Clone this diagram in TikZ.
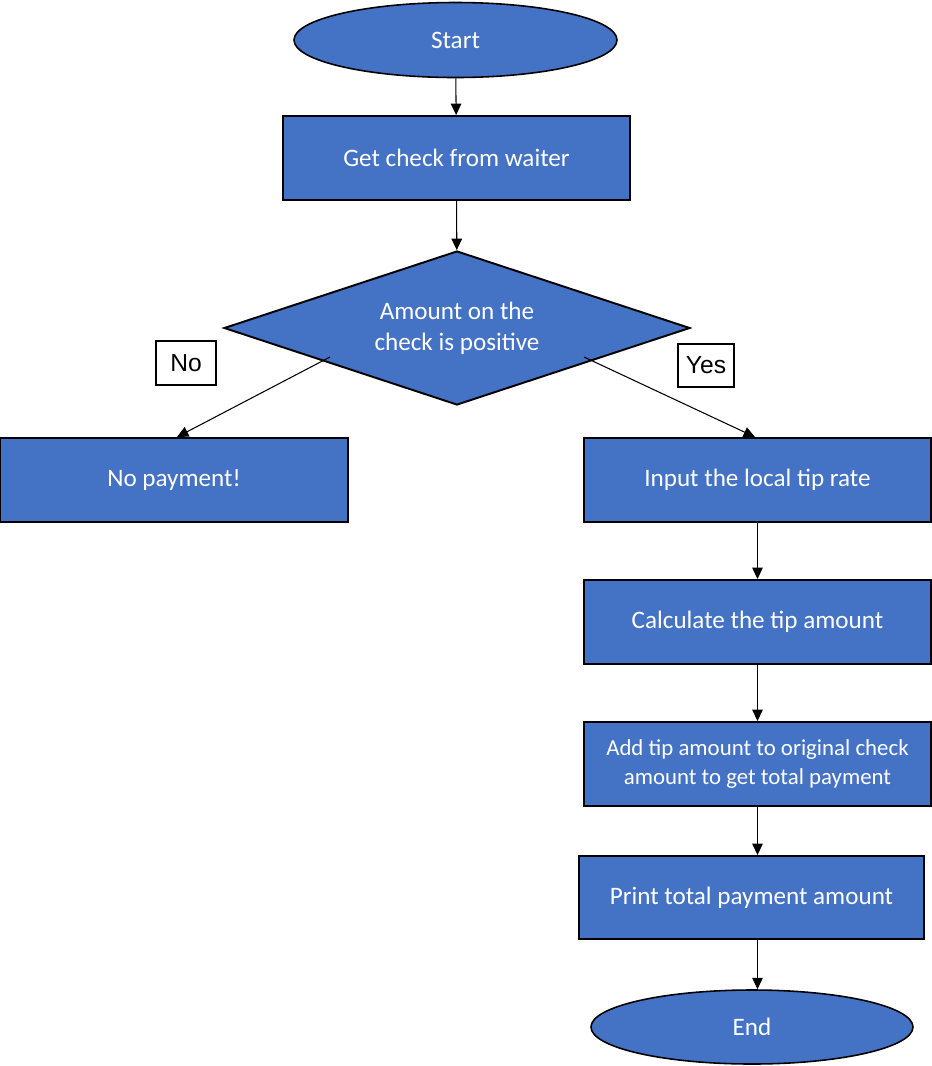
\documentclass[tikz,border=0pt]{standalone}
\usepackage{fontspec}
\setmainfont{Carlito}
\newfontfamily\labelfont{Liberation Sans}
\usepackage{xcolor}
\usepackage{tikz}
\usetikzlibrary{arrows.meta,positioning,calc,shapes.geometric}
\definecolor{FlowBlue}{HTML}{4472C4}

\begin{document}
\begin{tikzpicture}[
  box/.style={draw=black,line width=1.1pt,fill=FlowBlue,text=white,font=\fontsize{14.3}{17.5}\selectfont,
              minimum width=6.94cm,minimum height=1.68cm,align=center,inner sep=2pt},
  term/.style={ellipse,draw=black,line width=0.9pt,fill=FlowBlue,text=white,font=\fontsize{14.3}{17.5}\selectfont,
               minimum width=6.46cm,minimum height=1.5cm,inner sep=0pt},
  decide/.style={diamond,shape aspect=3,draw=black,line width=1.1pt,fill=FlowBlue,text=white,font=\fontsize{14.3}{17.5}\selectfont,
                 minimum width=9.32cm,minimum height=3.08cm,inner sep=0pt,align=center},
  tag/.style={draw=black,line width=0.9pt,fill=white,font=\labelfont\fontsize{14}{16}\selectfont,inner sep=0pt},
  link/.style={-{Triangle[width=6pt,length=6.5pt]},line width=0.6pt}]
\useasboundingbox (0,0) rectangle (18.64,-21.32);
\node[term] (start) at (9.11,-0.80) {Start};
\node[box] (check) at (9.13,-3.16) {Get check from waiter};
\node[decide] (pos) at (9.14,-6.56) {Amount on the\\check is positive};
\node[tag,minimum width=1.2cm,minimum height=0.88cm] (no) at (3.72,-7.26) {No};
\node[tag,minimum width=1.12cm,minimum height=0.86cm] (yes) at (14.12,-7.31) {Yes};
\node[box,minimum width=6.96cm] (nopay) at (3.48,-9.60) {No payment!};
\node[box] (rate) at (15.15,-9.60) {Input the local tip rate};
\node[box] (tip) at (15.15,-12.44) {Calculate the tip amount};
\node[box,font=\fontsize{13}{16}\selectfont] (total) at (15.15,-15.28) {Add tip amount to original check\\amount to get total payment};
\node[box,minimum width=6.9cm,minimum height=1.66cm] (print) at (15.03,-17.95) {Print total payment amount};
\node[term,minimum width=6.44cm,minimum height=1.48cm] (end) at (15.04,-20.54) {End};
\coordinate (noout) at (6.60,-7.14);
\coordinate (yesout) at (11.68,-7.14);
\draw[link] (start) -- (check);
\draw[link] (check) -- (pos);
\draw[link] (noout) -- ($(nopay.north)+(0.06,0)$);
\draw[link] (yesout) -- ($(rate.north)+(-0.05,0)$);
\draw[link] (rate) -- (tip);
\draw[link] (tip) -- (total);
\draw[link] (total.south) -- (total.south |- print.north);
\draw[link] (total.south |- print.south) -- (total.south |- end.north);
\end{tikzpicture}
\end{document}
